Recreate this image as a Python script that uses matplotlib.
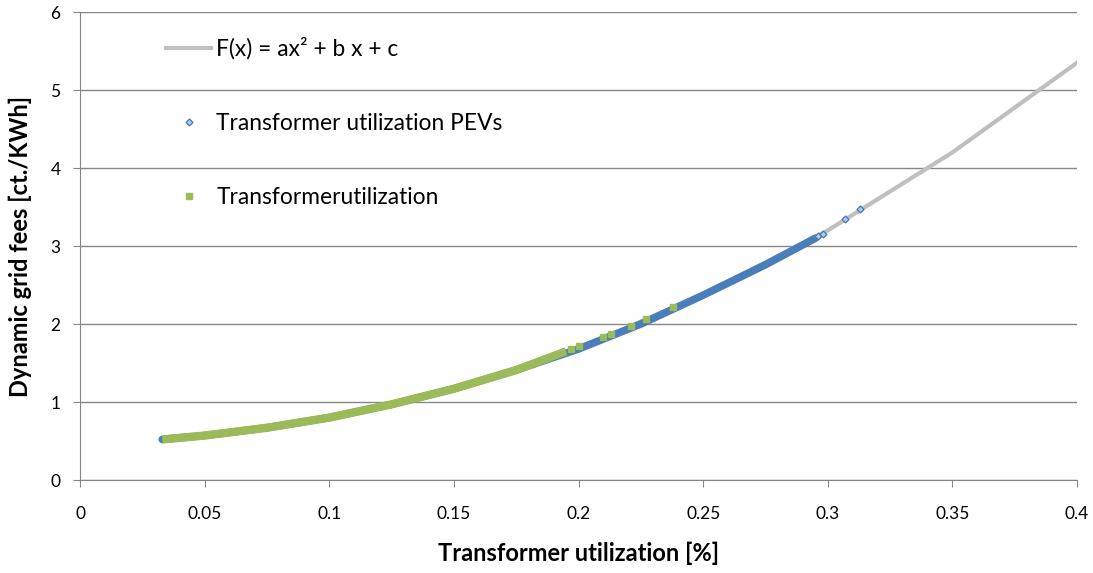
import matplotlib
matplotlib.use('Agg')
import matplotlib.pyplot as plt
from matplotlib.lines import Line2D

# Fitted function F(x)
fit_x = [0.033, 0.05, 0.1, 0.15, 0.2, 0.25, 0.3, 0.35, 0.4]
fit_y = [0.52, 0.57, 0.81, 1.17, 1.68, 2.38, 3.2, 4.2, 5.35]

# Transformer utilization PEVs (dense part + a few isolated points)
pev_x = [0.033, 0.05, 0.075, 0.1, 0.125, 0.15, 0.175, 0.2, 0.225, 0.25, 0.275, 0.295]
pev_y = [0.52, 0.57, 0.67, 0.80, 0.97, 1.17, 1.41, 1.68, 2.0, 2.37, 2.76, 3.1]
pev_sparse_x = [0.296, 0.298, 0.307, 0.313]
pev_sparse_y = [3.13, 3.15, 3.35, 3.47]

# Transformer utilization (dense part + scattered points)
tu_x = [0.033, 0.05, 0.075, 0.1, 0.125, 0.15, 0.175, 0.195]
tu_y = [0.52, 0.57, 0.67, 0.80, 0.97, 1.17, 1.41, 1.65]
tu_sparse_x = [0.197, 0.2, 0.21, 0.213, 0.221, 0.227, 0.238]
tu_sparse_y = [1.68, 1.72, 1.83, 1.87, 1.98, 2.06, 2.22]

xticks = [0, 0.05, 0.1, 0.15, 0.2, 0.25, 0.3, 0.35, 0.4]
xtick_labels = ['0', '0.05', '0.1', '0.15', '0.2', '0.25', '0.3', '0.35', '0.4']
yticks = [0, 1, 2, 3, 4, 5, 6]

grey = '#BFBFBF'
blue = '#4A7EBB'
green = '#9BBB59'
axis_col = '#868686'

plt.rcParams['font.family'] = ['Lato', 'DejaVu Sans']

fig = plt.figure(figsize=(10.93, 5.73), dpi=100)
ax = fig.add_axes([0.0732, 0.1623, 0.9122, 0.8167])

ax.plot(fit_x, fit_y, color=grey, lw=3, zorder=2)
ax.plot(pev_x, pev_y, color=blue, lw=5.5, solid_capstyle='round', zorder=3)
ax.plot(pev_sparse_x, pev_sparse_y, 'D', ms=3.5, mfc='#B9CDE5', mec=blue,
        mew=1, ls='none', zorder=3)
ax.plot(tu_x, tu_y, color=green, lw=6, solid_capstyle='butt', zorder=4)
ax.plot(tu_sparse_x, tu_sparse_y, 's', ms=5, color=green, ls='none', zorder=4)

ax.set_xlim(0, 0.4)
ax.set_ylim(0, 6)
ax.set_xticks(xticks)
ax.set_xticklabels(xtick_labels)
ax.set_yticks(yticks)
ax.tick_params(axis='both', direction='out', length=5, color=axis_col,
               labelsize=12.5, colors='black')
ax.tick_params(axis='x', pad=14)
ax.tick_params(axis='y', pad=9)
ax.yaxis.grid(True, color=axis_col, lw=1)
ax.set_axisbelow(True)
for s in ['top', 'right']:
    ax.spines[s].set_visible(False)
for s in ['left', 'bottom']:
    ax.spines[s].set_color(axis_col)

ax.set_xlabel('Transformer utilization [%]', fontsize=17, fontweight='bold', labelpad=14)
ax.set_ylabel('Dynamic grid fees [ct./KWh]', fontsize=17, fontweight='bold', labelpad=13)

handles = [
    Line2D([], [], color=grey, lw=3),
    Line2D([], [], marker='D', ms=3.5, mfc='#B9CDE5', mec=blue, mew=1, ls='none'),
    Line2D([], [], marker='s', ms=4, color=green, ls='none'),
]
labels = ['F(x) = ax² + b x + c', 'Transformer utilization PEVs', 'Transformerutilization']
ax.legend(handles, labels, loc='upper left', bbox_to_anchor=(0.066, 0.99),
          frameon=False, fontsize=16.4, handlelength=1.95, handletextpad=0.25,
          labelspacing=2.33)

fig.savefig('out.png', dpi=100)
